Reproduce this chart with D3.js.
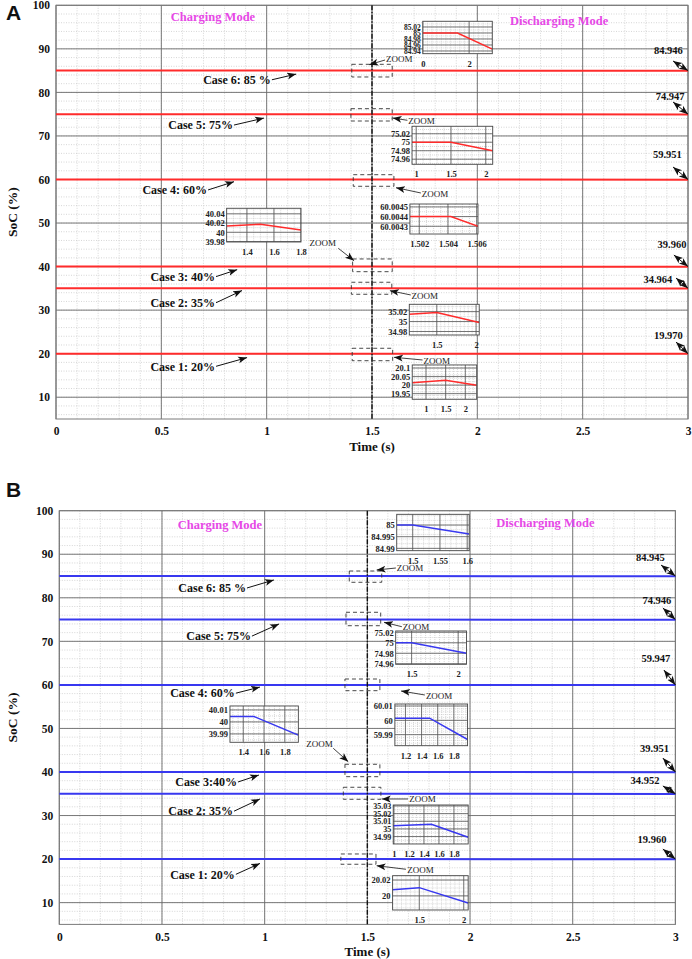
<!DOCTYPE html>
<html>
<head>
<meta charset="utf-8">
<script src="https://cdn.jsdelivr.net/npm/d3@7"></script>
<style>
  body { margin: 0; background: #fff; }
  svg { display: block; font-family: "Liberation Serif", "Times New Roman", serif; }
</style>
</head>
<body>
<div id="chart"></div>
<script>
// ==============================
// DATA
// ==============================

const timeTicks = [0, 0.5, 1, 1.5, 2, 2.5, 3];
const socTicks = [10, 20, 30, 40, 50, 60, 70, 80, 90, 100];

// order of the cases, top to bottom
const caseSoc = [85, 75, 60, 40, 35, 20];
const caseNamesA = ["Case 6: 85 %", "Case 5: 75%", "Case 4: 60%", "Case 3: 40%", "Case 2: 35%", "Case 1: 20%"];
const caseNamesB = ["Case 6: 85 %", "Case 5: 75%", "Case 4: 60%", "Case 3:40%", "Case 2: 35%", "Case 1: 20%"];
const finalSocA = [84.946, 74.947, 59.951, 39.960, 34.964, 19.970];
const finalSocB = [84.945, 74.946, 59.947, 39.951, 34.952, 19.960];
const switchTime = 1.5;

// zoom insets (same case order)
const insetXDomA = [[0, 3], [0.94, 2.1], [1.50135, 1.50609], [1.25, 1.8], [1.15, 2.04], [0.65, 2.29]];
const insetYDomA = [[84.931, 85.039], [74.948, 75.0376], [60.00422, 60.00453], [39.979, 40.052], [34.973, 35.0347], [19.917, 20.118]];
const insetXTicksA = [[0, 2], [1, 1.5, 2], [1.502, 1.504, 1.506], [1.4, 1.6, 1.8], [1.5, 2], [1, 1.5, 2]];
const insetYTicksA = [[84.94, 84.96, 84.98, 85, 85.02], [74.96, 74.98, 75, 75.02], [60.0043, 60.0044, 60.0045],
                      [39.98, 40, 40.02, 40.04], [34.98, 35, 35.02], [19.95, 20, 20.05, 20.1]];
const insetSeriesA = [
  [[0, 85], [1.5, 85], [3, 84.946]],
  [[0.94, 75], [1.5, 75], [2.1, 74.98]],
  [[1.5013, 60.0044], [1.5042, 60.0044], [1.5061, 60.0043]],
  [[1.25, 40.0136], [1.5, 40.0173], [1.8, 40.005]],
  [[1.15, 35.0147], [1.5, 35.018], [2.04, 34.998]],
  [[0.65, 20.014], [1.5, 20.028], [2.29, 19.999]]
];

const insetXDomB = [[1.4707, 1.6037], [1.329, 2.09], [1.069, 1.97], [1.272, 1.93], [0.99, 1.99], [1.2, 2.05]];
const insetYDomB = [[84.989, 85.0046], [74.959, 75.0225], [59.9823, 60.0114], [39.983, 40.0133], [34.9803, 35.0313], [19.9822, 20.0255]];
const insetXTicksB = [[1.5, 1.55, 1.6], [1.5, 2], [1.2, 1.4, 1.6, 1.8], [1.4, 1.6, 1.8], [1, 1.2, 1.4, 1.6, 1.8], [1.5, 2]];
const insetYTicksB = [[84.99, 84.995, 85], [74.96, 74.98, 75, 75.02], [59.99, 60, 60.01], [39.99, 40, 40.01],
                      [34.99, 35, 35.01, 35.02, 35.03], [20, 20.02]];
const insetSeriesB = [
  [[1.4707, 85], [1.5, 85], [1.6037, 84.9962]],
  [[1.329, 75], [1.5, 75], [2.09, 74.98]],
  [[1.069, 60.0015], [1.5, 60.0015], [1.97, 59.9866]],
  [[1.272, 40.0046], [1.5, 40.0046], [1.93, 39.989]],
  [[0.99, 35.004], [1.5, 35.006], [1.99, 34.989]],
  [[1.2, 20.0078], [1.5, 20.0104], [2.05, 19.991]]
];

// ==============================
// LAYOUT (positions in main-axis units: time, SoC)
// ==============================

const width = 692;
const height = 959;

const panels = [
  {
    letter: "A", letterY: 20, color: "#ff2b2b",
    left: 56, right: 688, top: 5.3, bottom: 419, xLabelY: 451,
    names: caseNamesA, finals: finalSocA,
    insetX: insetXDomA, insetY: insetYDomA, insetXT: insetXTicksA, insetYT: insetYTicksA, insetS: insetSeriesA,
    insetFont: [7.5, 8.5, 8.5, 8.5, 8.5, 8.5],
    modes: [[0.745, 97.3], [2.388, 96.5]],
    insetBox: [[1.741, 2.071, 96.33, 88.89], [1.690, 2.073, 72.22, 63.49], [1.680, 2.003, 54.37, 47.48],
               [0.810, 1.163, 53.39, 45.65], [1.677, 2.009, 31.34, 24.29], [1.691, 1.997, 17.41, 9.53]],
    zoomBox: [[1.404, 1.596, 86.45, 83.54], [1.400, 1.596, 76.26, 73.43], [1.411, 1.604, 61.10, 58.44],
              [1.408, 1.596, 41.75, 38.83], [1.402, 1.594, 36.40, 33.64], [1.406, 1.598, 21.24, 18.39]],
    // text x, text y, anchor, arrow from (t, v) to (t, v)
    zoomNote: [[1.566, 87.74, "start", 1.562, 87.44, 1.487, 86.36], [1.672, 73.36, "start", 1.668, 73.59, 1.598, 74.12],
               [1.736, 56.67, "start", 1.732, 56.9, 1.614, 58.12], [1.329, 45.49, "end", 1.340, 44.20, 1.415, 41.35],
               [1.688, 33.25, "start", 1.684, 33.48, 1.585, 34.47], [1.744, 18.39, "start", 1.740, 18.55, 1.604, 19.17]],
    // text end (t, v), arrow tip (t, v)
    caseNote: [[1.02, 82.9, 1.14, 84.2], [0.84, 72.5, 0.987, 74.1], [0.717, 57.6, 0.845, 59.5],
               [0.755, 37.7, 0.86, 39.3], [0.755, 31.7, 0.883, 34.5], [0.755, 17.1, 0.907, 19.1]],
    // label centre (t, v), arrow start (t, v)
    finalNote: [[2.907, 89.74, 2.929, 87.21], [2.915, 79.17, 2.929, 77.8], [2.902, 65.86, 2.929, 62.87],
                [2.924, 45.19, 2.933, 42.66], [2.857, 37.15, 2.943, 37.38], [2.907, 24.29, 2.943, 22.68]]
  },
  {
    letter: "B", letterY: 497, color: "#3838f0",
    left: 59.3, right: 675.4, top: 510.7, bottom: 924.4, xLabelY: 956,
    names: caseNamesB, finals: finalSocB,
    insetX: insetXDomB, insetY: insetYDomB, insetXT: insetXTicksB, insetYT: insetYTicksB, insetS: insetSeriesB,
    insetFont: [8.5, 8.5, 8.5, 8.5, 8, 8.5],
    modes: [[0.782, 96.83], [2.367, 97.3]],
    insetBox: [[1.643, 1.996, 99.17, 90.82], [1.638, 1.983, 72.38, 64.73], [1.634, 1.988, 55.61, 46.04],
               [0.831, 1.164, 55.16, 46.82], [1.626, 1.991, 32.42, 23.47], [1.623, 1.991, 16.19, 8.31]],
    zoomBox: [[1.412, 1.570, 86.15, 83.56], [1.396, 1.565, 76.67, 73.59], [1.391, 1.561, 61.35, 58.67],
              [1.391, 1.561, 41.77, 38.92], [1.383, 1.566, 36.49, 33.73], [1.371, 1.542, 21.17, 18.81]],
    zoomNote: [[1.643, 86.77, "start", 1.639, 86.84, 1.545, 86.38], [1.672, 73.23, "start", 1.668, 73.36, 1.581, 74.37],
               [1.785, 57.45, "start", 1.78, 57.68, 1.664, 58.6], [1.331, 46.36, "end", 1.334, 45.44, 1.407, 42.37],
               [1.704, 33.73, "start", 1.698, 33.8, 1.570, 33.8], [1.694, 17.5, "start", 1.688, 17.66, 1.545, 18.48]],
    caseNote: [[0.909, 82.25, 1.045, 84.1], [0.933, 71.2, 1.07, 74.0], [0.855, 58.1, 0.977, 59.5],
               [0.865, 37.7, 0.972, 39.3], [0.846, 31.0, 0.977, 33.8], [0.855, 16.5, 0.977, 19.0]],
    finalNote: [[2.878, 89.37, 2.93, 87.53], [2.910, 79.5, 2.939, 77.66], [2.905, 66.18, 2.944, 63.42],
                [2.898, 45.51, 2.939, 43.2], [2.852, 38.16, 2.939, 36.79], [2.886, 24.62, 2.939, 22.3]]
  }
];

// ==============================
// SVG SETUP
// ==============================

const svg = d3.select("#chart")
  .append("svg")
  .attr("width", width)
  .attr("height", height);

const defs = svg.append("defs");

// arrow head like the MATLAB annotation arrows
defs.append("marker")
  .attr("id", "head")
  .attr("viewBox", "0 0 10 10")
  .attr("refX", 10)
  .attr("refY", 5)
  .attr("markerWidth", 9)
  .attr("markerHeight", 9)
  .attr("markerUnits", "userSpaceOnUse")
  .attr("orient", "auto-start-reverse")
  .append("path")
  .attr("d", "M0,1.2 L10,5 L0,8.8 L2.5,5 Z")
  .attr("fill", "#111");

const majorGrid = "#6a6a6a";
const minorGrid = "#c4c4c4";

let clipCount = 0;

// ==============================
// PANEL DRAWING
// ==============================

function drawPanel(p) {
  const x = d3.scaleLinear().domain([0, 3]).range([p.left, p.right]);
  const y = d3.scaleLinear().domain([5, 100]).range([p.bottom, p.top]);
  const g = svg.append("g");

  // minor grid (dotted)
  g.append("g").selectAll("line")
    .data(x.ticks(30))
    .join("line")
    .attr("x1", d => x(d)).attr("x2", d => x(d))
    .attr("y1", p.top).attr("y2", p.bottom)
    .attr("stroke", minorGrid).attr("stroke-width", 0.7).attr("stroke-dasharray", "1,1.5");
  g.append("g").selectAll("line")
    .data(y.ticks(48))
    .join("line")
    .attr("x1", p.left).attr("x2", p.right)
    .attr("y1", d => y(d)).attr("y2", d => y(d))
    .attr("stroke", minorGrid).attr("stroke-width", 0.7).attr("stroke-dasharray", "1,1.5");

  // major grid
  g.append("g").selectAll("line")
    .data(timeTicks)
    .join("line")
    .attr("x1", d => x(d)).attr("x2", d => x(d))
    .attr("y1", p.top).attr("y2", p.bottom)
    .attr("stroke", majorGrid).attr("stroke-width", 0.9);
  g.append("g").selectAll("line")
    .data(socTicks)
    .join("line")
    .attr("x1", p.left).attr("x2", p.right)
    .attr("y1", d => y(d)).attr("y2", d => y(d))
    .attr("stroke", majorGrid).attr("stroke-width", 0.9);

  // frame
  g.append("rect")
    .attr("x", p.left).attr("y", p.top)
    .attr("width", p.right - p.left).attr("height", p.bottom - p.top)
    .attr("fill", "none").attr("stroke", "#7a7a7a").attr("stroke-width", 1);

  // axes
  const xAxis = g.append("g")
    .attr("transform", `translate(0,${p.bottom})`)
    .call(d3.axisBottom(x).tickValues(timeTicks).tickSize(0).tickPadding(8).tickFormat(d3.format("")));
  const yAxis = g.append("g")
    .attr("transform", `translate(${p.left},0)`)
    .call(d3.axisLeft(y).tickValues(socTicks).tickSize(0).tickPadding(6));
  [xAxis, yAxis].forEach(a => {
    a.select(".domain").remove();
    a.selectAll("text")
      .attr("font-family", "Liberation Serif, serif")
      .attr("font-size", 11.5)
      .attr("font-weight", "bold")
      .attr("fill", "#111");
  });

  // SoC lines: charging until the switch, then discharging to the final value
  const line = d3.line().x(d => x(d[0])).y(d => y(d[1]));
  g.append("g").selectAll("path")
    .data(caseSoc.map((v, i) => [[0, v], [switchTime, v], [3, p.finals[i]]]))
    .join("path")
    .attr("d", line)
    .attr("fill", "none")
    .attr("stroke", p.color)
    .attr("stroke-width", 2);

  // dash-dot switching line
  g.append("line")
    .attr("x1", x(switchTime)).attr("x2", x(switchTime))
    .attr("y1", p.top).attr("y2", p.bottom)
    .attr("stroke", "#111").attr("stroke-width", 1.4)
    .attr("stroke-dasharray", "5,1.5,1.5,1.5");

  // mode titles
  g.selectAll("text.mode")
    .data(["Charging Mode", "Discharging Mode"])
    .join("text")
    .attr("class", "mode")
    .attr("x", (d, i) => x(p.modes[i][0]))
    .attr("y", (d, i) => y(p.modes[i][1]))
    .attr("dy", "0.35em")
    .attr("text-anchor", "middle")
    .attr("font-size", 12.5)
    .attr("font-weight", "bold")
    .attr("fill", "#e648e6")
    .text(d => d);

  // case labels with arrows
  p.caseNote.forEach((c, i) => {
    g.append("text")
      .attr("x", x(c[0])).attr("y", y(c[1]))
      .attr("dy", "0.35em")
      .attr("text-anchor", "end")
      .attr("font-size", 12)
      .attr("font-weight", "bold")
      .attr("fill", "#111")
      .text(p.names[i]);
    g.append("line")
      .attr("x1", x(c[0]) + 1).attr("y1", y(c[1]))
      .attr("x2", x(c[2])).attr("y2", y(c[3]))
      .attr("stroke", "#111").attr("stroke-width", 1)
      .attr("marker-end", "url(#head)");
  });

  // final SoC values with double arrows
  p.finalNote.forEach((f, i) => {
    g.append("text")
      .attr("x", x(f[0])).attr("y", y(f[1]))
      .attr("dy", "0.35em")
      .attr("text-anchor", "middle")
      .attr("font-size", 10.5)
      .attr("font-weight", "bold")
      .attr("fill", "#111")
      .text(d3.format(".3f")(p.finals[i]));
    g.append("line")
      .attr("x1", x(f[2])).attr("y1", y(f[3]))
      .attr("x2", x(3)).attr("y2", y(caseSoc[i]))
      .attr("stroke", "#111").attr("stroke-width", 1)
      .attr("marker-start", "url(#head)")
      .attr("marker-end", "url(#head)");
  });

  // dashed zoom boxes
  g.append("g").selectAll("rect")
    .data(p.zoomBox)
    .join("rect")
    .attr("x", d => x(d[0])).attr("y", d => y(d[2]))
    .attr("width", d => x(d[1]) - x(d[0]))
    .attr("height", d => y(d[3]) - y(d[2]))
    .attr("fill", "none")
    .attr("stroke", "#333").attr("stroke-width", 0.9)
    .attr("stroke-dasharray", "4,3");

  // ZOOM notes
  p.zoomNote.forEach(z => {
    g.append("text")
      .attr("x", x(z[0])).attr("y", y(z[1]))
      .attr("dy", "0.35em")
      .attr("text-anchor", z[2])
      .attr("font-size", 9)
      .attr("fill", "#222")
      .text("ZOOM");
    g.append("line")
      .attr("x1", x(z[3])).attr("y1", y(z[4]))
      .attr("x2", x(z[5])).attr("y2", y(z[6]))
      .attr("stroke", "#111").attr("stroke-width", 0.8)
      .attr("marker-end", "url(#head)");
  });

  // insets
  p.insetBox.forEach((b, i) => drawInset(g, p, i, x(b[0]), x(b[1]), y(b[2]), y(b[3])));

  // axis titles and panel letter
  g.append("text")
    .attr("x", x(switchTime)).attr("y", p.xLabelY)
    .attr("text-anchor", "middle")
    .attr("font-size", 13)
    .attr("font-weight", "bold")
    .attr("fill", "#111")
    .text("Time (s)");
  g.append("text")
    .attr("transform", `translate(12,${(p.top + p.bottom) / 2}) rotate(-90)`)
    .attr("dy", "0.35em")
    .attr("text-anchor", "middle")
    .attr("font-size", 13.5)
    .attr("font-weight", "bold")
    .attr("fill", "#111")
    .text("SoC (%)");
  g.append("text")
    .attr("x", 6).attr("y", p.letterY)
    .attr("font-family", "Liberation Sans, Arial, sans-serif")
    .attr("font-size", 21)
    .attr("font-weight", "bold")
    .attr("fill", "#111")
    .text(p.letter);
}

// ==============================
// INSET (mini zoom chart)
// ==============================

function drawInset(parent, p, i, x0, x1, y0, y1) {
  const ix = d3.scaleLinear().domain(p.insetX[i]).range([x0, x1]);
  const iy = d3.scaleLinear().domain(p.insetY[i]).range([y1, y0]);
  const g = parent.append("g");
  const id = "clip" + (clipCount++);

  g.append("clipPath").attr("id", id)
    .append("rect")
    .attr("x", x0).attr("y", y0).attr("width", x1 - x0).attr("height", y1 - y0);

  g.append("rect")
    .attr("x", x0).attr("y", y0).attr("width", x1 - x0).attr("height", y1 - y0)
    .attr("fill", "#fff");

  const inner = g.append("g").attr("clip-path", `url(#${id})`);

  // minor grid
  inner.selectAll("line.mx")
    .data(ix.ticks(Math.round((x1 - x0) / 5)))
    .join("line").attr("class", "mx")
    .attr("x1", d => ix(d)).attr("x2", d => ix(d))
    .attr("y1", y0).attr("y2", y1)
    .attr("stroke", "#bdbdbd").attr("stroke-width", 0.6).attr("stroke-dasharray", "1,1");
  inner.selectAll("line.my")
    .data(iy.ticks(Math.round((y1 - y0) / 4)))
    .join("line").attr("class", "my")
    .attr("x1", x0).attr("x2", x1)
    .attr("y1", d => iy(d)).attr("y2", d => iy(d))
    .attr("stroke", "#bdbdbd").attr("stroke-width", 0.6).attr("stroke-dasharray", "1,1");

  // major grid at the ticks
  inner.selectAll("line.gx")
    .data(p.insetXT[i])
    .join("line").attr("class", "gx")
    .attr("x1", d => ix(d)).attr("x2", d => ix(d))
    .attr("y1", y0).attr("y2", y1)
    .attr("stroke", "#555").attr("stroke-width", 0.8);
  inner.selectAll("line.gy")
    .data(p.insetYT[i])
    .join("line").attr("class", "gy")
    .attr("x1", x0).attr("x2", x1)
    .attr("y1", d => iy(d)).attr("y2", d => iy(d))
    .attr("stroke", "#555").attr("stroke-width", 0.8);

  // zoomed SoC trace
  inner.append("path")
    .datum(p.insetS[i])
    .attr("d", d3.line().x(d => ix(d[0])).y(d => iy(d[1])))
    .attr("fill", "none")
    .attr("stroke", p.color)
    .attr("stroke-width", 1.5);

  g.append("rect")
    .attr("x", x0).attr("y", y0).attr("width", x1 - x0).attr("height", y1 - y0)
    .attr("fill", "none").attr("stroke", "#444").attr("stroke-width", 0.9);

  const ax = g.append("g")
    .attr("transform", `translate(0,${y1})`)
    .call(d3.axisBottom(ix).tickValues(p.insetXT[i]).tickSize(0).tickPadding(7).tickFormat(d => String(d)));
  const ay = g.append("g")
    .attr("transform", `translate(${x0},0)`)
    .call(d3.axisLeft(iy).tickValues(p.insetYT[i]).tickSize(0).tickPadding(2).tickFormat(d => String(d)));
  ax.select(".domain").remove();
  ay.select(".domain").remove();
  ax.selectAll("text")
    .attr("font-family", "Liberation Serif, serif")
    .attr("font-size", 8.5)
    .attr("font-weight", "bold")
    .attr("fill", "#222");
  ay.selectAll("text")
    .attr("font-family", "Liberation Serif, serif")
    .attr("font-size", p.insetFont[i])
    .attr("font-weight", "bold")
    .attr("fill", "#222");
}

panels.forEach(drawPanel);
</script>
</body>
</html>
